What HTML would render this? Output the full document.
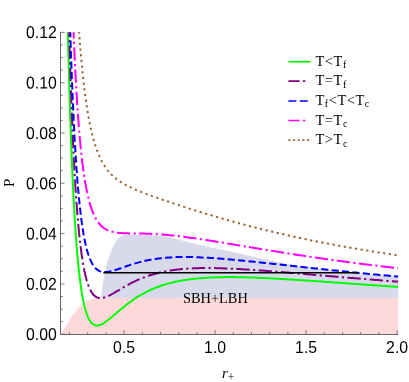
<!DOCTYPE html>
<html><head><meta charset="utf-8"><title>P-r+ diagram</title>
<style>html,body{margin:0;padding:0;background:#fff;}body{width:409px;height:382px;position:relative;overflow:hidden;}</style>
</head><body>
<svg width="409" height="382" viewBox="0 0 409 382" style="position:absolute;left:0;top:0">
<path d="M60.6,334.0 L61.1,333.2 L61.7,332.4 L62.2,331.5 L62.7,330.7 L63.3,329.9 L63.8,329.1 L64.3,328.3 L64.8,327.4 L65.4,326.6 L65.9,325.8 L66.4,325.0 L66.9,324.2 L67.5,323.3 L68.0,322.5 L68.5,321.7 L69.0,320.9 L69.6,320.1 L70.1,319.2 L70.6,318.4 L71.1,317.6 L71.6,316.7 L72.2,315.9 L72.7,315.1 L73.3,314.3 L73.9,313.5 L74.4,312.7 L75.0,312.0 L75.6,311.2 L76.2,310.4 L76.9,309.7 L77.5,308.9 L78.1,308.2 L78.8,307.5 L79.5,306.8 L80.2,306.1 L80.9,305.5 L81.7,304.8 L82.4,304.2 L83.2,303.6 L84.0,303.0 L84.8,302.5 L85.6,301.9 L86.4,301.4 L87.3,300.9 L88.1,300.5 L89.0,300.1 L90.0,299.8 L90.9,299.5 L91.8,299.3 L92.8,299.0 L93.7,298.8 L94.7,298.6 L95.7,298.5 L96.6,298.4 L97.6,298.3 L98.6,298.2 L99.5,298.2 L100.5,298.1 L101.5,298.1 L398.2,298.1 L398.2,334.5 L60.4,334.5 Z" fill="#ffd9d9"/>
<path d="M100.9,298.1 L101.1,296.4 L101.4,294.6 L101.6,292.9 L101.8,291.2 L102.1,289.4 L102.3,287.7 L102.6,286.0 L102.8,284.3 L103.1,282.5 L103.3,280.8 L103.6,279.1 L104.0,277.4 L104.4,275.7 L104.8,274.0 L105.2,272.3 L105.6,270.6 L105.9,268.8 L106.2,267.1 L106.5,265.4 L106.9,263.7 L107.4,262.0 L107.9,260.4 L108.5,258.7 L109.0,257.0 L109.6,255.4 L110.2,253.7 L110.7,252.1 L111.4,250.5 L112.0,248.8 L112.7,247.2 L113.5,245.7 L114.3,244.1 L115.1,242.6 L116.1,241.1 L117.2,239.7 L118.3,238.4 L119.6,237.3 L121.1,236.3 L122.7,235.6 L124.4,235.1 L126.1,234.8 L127.9,234.6 L129.6,234.5 L131.3,234.5 L133.1,234.5 L134.8,234.5 L136.6,234.5 L138.3,234.6 L140.1,234.6 L141.8,234.7 L143.6,234.7 L145.3,234.8 L147.1,234.9 L148.8,235.0 L150.5,235.1 L152.3,235.3 L154.0,235.4 L155.8,235.6 L157.5,235.7 L159.2,235.9 L161.0,236.1 L162.7,236.3 L164.4,236.6 L166.2,236.8 L167.9,237.1 L169.6,237.4 L171.3,237.8 L173.0,238.2 L174.7,238.6 L176.4,239.0 L178.1,239.4 L179.8,239.8 L181.5,240.3 L183.2,240.7 L184.9,241.1 L186.6,241.6 L188.3,242.0 L190.0,242.4 L191.7,242.9 L193.4,243.3 L195.1,243.7 L196.7,244.1 L198.4,244.6 L200.1,245.0 L201.8,245.4 L203.5,245.8 L205.2,246.2 L206.9,246.6 L208.6,247.0 L210.3,247.4 L212.0,247.8 L213.8,248.1 L215.5,248.4 L217.2,248.8 L218.9,249.1 L220.6,249.4 L222.3,249.7 L224.1,250.0 L225.8,250.4 L227.5,250.7 L229.2,251.0 L230.9,251.4 L232.6,251.8 L234.3,252.2 L236.0,252.6 L237.7,253.0 L239.4,253.4 L241.1,253.8 L242.8,254.2 L244.5,254.7 L246.2,255.1 L247.9,255.5 L249.6,255.8 L251.3,256.2 L253.0,256.6 L254.7,257.0 L256.4,257.4 L258.1,257.7 L259.8,258.1 L261.5,258.5 L263.2,258.9 L265.0,259.2 L266.7,259.6 L268.4,260.0 L270.1,260.4 L271.8,260.7 L273.5,261.1 L275.2,261.4 L276.9,261.8 L278.6,262.1 L280.3,262.5 L282.0,262.8 L283.8,263.1 L285.5,263.5 L287.2,263.8 L288.9,264.1 L290.6,264.4 L292.4,264.7 L294.1,265.0 L295.8,265.3 L297.5,265.6 L299.2,265.9 L301.0,266.2 L302.7,266.5 L304.4,266.7 L306.1,267.0 L307.9,267.3 L309.6,267.5 L311.3,267.8 L313.0,268.1 L314.8,268.3 L316.5,268.5 L318.2,268.8 L320.0,269.0 L321.7,269.3 L323.4,269.5 L325.2,269.7 L326.9,269.9 L328.6,270.1 L330.4,270.3 L332.1,270.5 L333.8,270.7 L335.6,270.9 L337.3,271.1 L339.1,271.2 L340.8,271.4 L342.5,271.6 L344.3,271.8 L346.0,271.9 L347.7,272.1 L349.5,272.3 L351.2,272.4 L353.0,272.6 L354.7,272.8 L356.4,272.9 L358.2,273.1 L359.9,273.3 L361.7,273.4 L363.4,273.6 L365.1,273.8 L366.9,273.9 L368.6,274.1 L370.4,274.3 L372.1,274.4 L373.8,274.6 L375.6,274.7 L377.3,274.9 L379.0,275.0 L380.8,275.2 L382.5,275.3 L384.3,275.5 L386.0,275.6 L387.8,275.8 L389.5,275.9 L391.2,276.1 L393.0,276.2 L394.7,276.3 L396.5,276.5 L398.2,276.6 L398.2,298.1 L100.9,298.1 Z" fill="#d9d9ec"/>
<path d="M67.9,32.2 L68.0,37.2 L68.2,46.4 L68.4,55.3 L68.7,63.9 L68.9,72.2 L69.1,80.3 L69.3,88.1 L69.6,95.7 L69.8,103.1 L70.0,110.2 L70.2,117.2 L70.5,123.9 L70.7,130.4 L70.9,136.7 L71.1,142.8 L71.4,148.7 L71.6,154.4 L71.8,160.0 L72.0,165.4 L72.3,170.6 L72.5,175.7 L72.7,180.6 L72.9,185.4 L73.2,190.1 L73.4,194.5 L73.6,198.9 L73.8,203.1 L74.1,207.2 L74.3,211.2 L74.5,215.1 L74.7,218.8 L75.0,222.4 L75.2,226.0 L75.4,229.4 L75.6,232.7 L75.9,235.9 L76.1,239.0 L76.3,242.0 L76.5,244.9 L76.8,247.8 L77.0,250.5 L77.2,253.2 L77.4,255.8 L77.7,258.3 L77.9,260.7 L78.1,263.1 L78.4,265.4 L78.6,267.6 L78.8,269.7 L79.0,271.8 L79.3,273.8 L79.5,275.8 L79.7,277.7 L79.9,279.5 L80.2,281.3 L80.4,283.0 L80.6,284.7 L80.8,286.3 L81.1,287.8 L81.3,289.4 L81.5,290.8 L81.7,292.2 L82.0,293.6 L82.2,294.9 L82.4,296.2 L82.6,297.5 L82.9,298.7 L83.1,299.8 L83.3,301.0 L83.5,302.0 L83.8,303.1 L84.0,304.1 L84.2,305.1 L84.4,306.0 L84.7,306.9 L84.9,307.8 L85.1,308.7 L85.3,309.5 L85.6,310.3 L86.0,311.8 L86.5,313.2 L86.9,314.5 L87.4,315.6 L87.8,316.7 L88.3,317.8 L88.7,318.7 L89.2,319.5 L89.6,320.3 L90.1,321.0 L90.8,322.0 L91.4,322.8 L92.1,323.5 L92.8,324.0 L93.5,324.5 L94.4,324.9 L95.3,325.2 L96.2,325.4 L97.1,325.4 L98.0,325.4 L98.9,325.2 L99.8,325.0 L100.7,324.6 L101.6,324.2 L102.5,323.8 L103.4,323.3 L104.3,322.7 L105.0,322.3 L105.6,321.8 L106.3,321.3 L107.0,320.8 L107.7,320.3 L108.3,319.8 L109.0,319.3 L109.7,318.7 L110.4,318.2 L111.1,317.6 L111.7,317.0 L112.4,316.5 L113.1,315.9 L113.8,315.3 L114.4,314.7 L115.1,314.1 L115.8,313.6 L116.5,313.0 L117.1,312.4 L117.8,311.8 L118.5,311.2 L119.2,310.7 L119.8,310.1 L120.5,309.5 L121.2,309.0 L121.9,308.4 L122.6,307.8 L123.2,307.3 L123.9,306.7 L124.6,306.2 L125.3,305.7 L125.9,305.1 L126.6,304.6 L127.3,304.1 L128.0,303.6 L128.6,303.1 L129.3,302.6 L130.0,302.1 L130.7,301.6 L131.4,301.1 L132.0,300.6 L132.7,300.1 L133.4,299.7 L134.1,299.2 L134.7,298.7 L135.4,298.3 L136.1,297.9 L136.8,297.4 L137.4,297.0 L138.3,296.4 L139.2,295.9 L140.1,295.4 L141.0,294.8 L141.9,294.3 L142.9,293.8 L143.8,293.3 L144.7,292.8 L145.6,292.4 L146.5,291.9 L147.4,291.4 L148.3,291.0 L149.2,290.6 L150.1,290.2 L151.0,289.7 L151.9,289.3 L152.8,289.0 L153.7,288.6 L154.6,288.2 L155.5,287.8 L156.4,287.5 L157.3,287.1 L158.2,286.8 L159.1,286.5 L160.0,286.1 L160.9,285.8 L161.8,285.5 L162.7,285.2 L163.6,284.9 L164.5,284.7 L165.4,284.4 L166.3,284.1 L167.2,283.9 L168.1,283.6 L169.0,283.4 L169.9,283.1 L170.8,282.9 L171.7,282.7 L172.6,282.4 L173.5,282.2 L174.4,282.0 L175.3,281.8 L176.2,281.6 L177.1,281.4 L178.0,281.2 L178.9,281.1 L179.8,280.9 L180.7,280.7 L181.6,280.6 L182.5,280.4 L183.4,280.3 L184.3,280.1 L185.3,280.0 L186.2,279.8 L187.1,279.7 L188.0,279.6 L188.9,279.4 L189.8,279.3 L190.7,279.2 L191.6,279.1 L192.5,279.0 L193.4,278.9 L194.3,278.8 L195.2,278.7 L196.1,278.6 L197.0,278.5 L197.9,278.4 L198.8,278.3 L199.7,278.2 L200.6,278.2 L201.5,278.1 L202.4,278.0 L203.3,278.0 L204.2,277.9 L205.1,277.8 L206.0,277.8 L206.9,277.7 L207.8,277.7 L208.7,277.6 L209.6,277.6 L210.5,277.5 L211.4,277.5 L212.3,277.4 L213.2,277.4 L214.1,277.4 L215.0,277.3 L215.9,277.3 L216.8,277.3 L217.7,277.3 L218.6,277.2 L219.5,277.2 L220.4,277.2 L221.3,277.2 L222.2,277.2 L223.1,277.2 L224.0,277.1 L224.9,277.1 L225.8,277.1 L226.7,277.1 L227.7,277.1 L228.6,277.1 L229.5,277.1 L230.4,277.1 L231.3,277.1 L232.2,277.1 L233.1,277.1 L234.0,277.1 L234.9,277.1 L235.8,277.2 L236.7,277.2 L237.6,277.2 L238.5,277.2 L239.4,277.2 L240.3,277.2 L241.2,277.2 L242.1,277.3 L243.0,277.3 L243.9,277.3 L244.8,277.3 L245.7,277.4 L246.6,277.4 L247.5,277.4 L248.4,277.4 L249.3,277.5 L250.2,277.5 L251.1,277.5 L252.0,277.5 L252.9,277.6 L253.8,277.6 L254.7,277.6 L255.6,277.7 L256.5,277.7 L257.4,277.7 L258.3,277.8 L259.2,277.8 L260.1,277.9 L261.0,277.9 L261.9,277.9 L262.8,278.0 L263.7,278.0 L264.6,278.1 L265.5,278.1 L266.4,278.2 L267.3,278.2 L268.2,278.2 L269.1,278.3 L270.0,278.3 L271.0,278.4 L271.9,278.4 L272.8,278.5 L273.7,278.5 L274.6,278.6 L275.5,278.6 L276.4,278.7 L277.3,278.7 L278.2,278.8 L279.1,278.8 L280.0,278.9 L280.9,278.9 L281.8,279.0 L282.7,279.0 L283.6,279.1 L284.5,279.1 L285.4,279.2 L286.3,279.2 L287.2,279.3 L288.1,279.4 L289.0,279.4 L289.9,279.5 L290.8,279.5 L291.7,279.6 L292.6,279.6 L293.5,279.7 L294.4,279.7 L295.3,279.8 L296.2,279.9 L297.1,279.9 L298.0,280.0 L298.9,280.0 L299.8,280.1 L300.7,280.2 L301.6,280.2 L302.5,280.3 L303.4,280.3 L304.3,280.4 L305.2,280.5 L306.1,280.5 L307.0,280.6 L307.9,280.6 L308.8,280.7 L309.7,280.8 L310.6,280.8 L311.5,280.9 L312.4,280.9 L313.4,281.0 L314.3,281.1 L315.2,281.1 L316.1,281.2 L317.0,281.2 L317.9,281.3 L318.8,281.4 L319.7,281.4 L320.6,281.5 L321.5,281.6 L322.4,281.6 L323.3,281.7 L324.2,281.7 L325.1,281.8 L326.0,281.9 L326.9,281.9 L327.8,282.0 L328.7,282.1 L329.6,282.1 L330.5,282.2 L331.4,282.3 L332.3,282.3 L333.2,282.4 L334.1,282.4 L335.0,282.5 L335.9,282.6 L336.8,282.6 L337.7,282.7 L338.6,282.8 L339.5,282.8 L340.4,282.9 L341.3,283.0 L342.2,283.0 L343.1,283.1 L344.0,283.1 L344.9,283.2 L345.8,283.3 L346.7,283.3 L347.6,283.4 L348.5,283.5 L349.4,283.5 L350.3,283.6 L351.2,283.7 L352.1,283.7 L353.0,283.8 L353.9,283.9 L354.8,283.9 L355.7,284.0 L356.7,284.0 L357.6,284.1 L358.5,284.2 L359.4,284.2 L360.3,284.3 L361.2,284.4 L362.1,284.4 L363.0,284.5 L363.9,284.6 L364.8,284.6 L365.7,284.7 L366.6,284.7 L367.5,284.8 L368.4,284.9 L369.3,284.9 L370.2,285.0 L371.1,285.1 L372.0,285.1 L372.9,285.2 L373.8,285.3 L374.7,285.3 L375.6,285.4 L376.5,285.4 L377.4,285.5 L378.3,285.6 L379.2,285.6 L380.1,285.7 L381.0,285.8 L381.9,285.8 L382.8,285.9 L383.7,285.9 L384.6,286.0 L385.5,286.1 L386.4,286.1 L387.3,286.2 L388.2,286.3 L389.1,286.3 L390.0,286.4 L390.9,286.4 L391.8,286.5 L392.7,286.6 L393.6,286.6 L394.5,286.7 L395.4,286.7 L396.3,286.8 L397.2,286.9 L398.1,286.9" fill="none" stroke="#00ff00" stroke-width="2"/>
<path d="M69.2,32.2 L69.3,38.3 L69.6,46.2 L69.8,53.8 L70.0,61.1 L70.2,68.3 L70.5,75.3 L70.7,82.0 L70.9,88.6 L71.1,94.9 L71.4,101.1 L71.6,107.1 L71.8,113.0 L72.0,118.6 L72.3,124.1 L72.5,129.5 L72.7,134.6 L72.9,139.7 L73.2,144.6 L73.4,149.3 L73.6,153.9 L73.8,158.4 L74.1,162.8 L74.3,167.0 L74.5,171.1 L74.7,175.1 L75.0,179.0 L75.2,182.7 L75.4,186.4 L75.6,189.9 L75.9,193.4 L76.1,196.7 L76.3,200.0 L76.5,203.1 L76.8,206.2 L77.0,209.2 L77.2,212.1 L77.4,214.9 L77.7,217.6 L77.9,220.3 L78.1,222.8 L78.4,225.3 L78.6,227.8 L78.8,230.1 L79.0,232.4 L79.3,234.6 L79.5,236.8 L79.7,238.9 L79.9,240.9 L80.2,242.9 L80.4,244.8 L80.6,246.7 L80.8,248.5 L81.1,250.2 L81.3,251.9 L81.5,253.6 L81.7,255.2 L82.0,256.7 L82.2,258.2 L82.4,259.7 L82.6,261.1 L82.9,262.5 L83.1,263.8 L83.3,265.1 L83.5,266.4 L83.8,267.6 L84.0,268.7 L84.2,269.9 L84.4,271.0 L84.7,272.1 L84.9,273.1 L85.1,274.1 L85.3,275.1 L85.6,276.0 L85.8,276.9 L86.0,277.8 L86.2,278.7 L86.5,279.5 L86.7,280.3 L86.9,281.1 L87.4,282.6 L87.8,283.9 L88.3,285.2 L88.7,286.4 L89.2,287.5 L89.6,288.6 L90.1,289.5 L90.5,290.4 L91.0,291.2 L91.4,292.0 L91.9,292.7 L92.6,293.7 L93.2,294.5 L93.9,295.2 L94.6,295.8 L95.3,296.4 L95.9,296.8 L96.8,297.3 L97.7,297.6 L98.6,297.9 L99.6,298.0 L100.5,298.1 L101.4,298.0 L102.3,297.9 L103.2,297.8 L104.1,297.6 L105.0,297.3 L105.9,297.0 L106.8,296.6 L107.7,296.3 L108.6,295.8 L109.5,295.4 L110.4,295.0 L111.3,294.5 L112.2,294.0 L113.1,293.5 L114.0,293.0 L114.9,292.4 L115.8,291.9 L116.7,291.4 L117.6,290.8 L118.5,290.3 L119.4,289.8 L120.3,289.2 L121.2,288.7 L122.1,288.2 L123.0,287.6 L123.9,287.1 L124.8,286.6 L125.7,286.1 L126.6,285.6 L127.5,285.1 L128.4,284.6 L129.3,284.1 L130.2,283.6 L131.1,283.2 L132.0,282.7 L132.9,282.2 L133.8,281.8 L134.7,281.4 L135.6,280.9 L136.5,280.5 L137.4,280.1 L138.3,279.7 L139.2,279.3 L140.1,278.9 L141.0,278.5 L141.9,278.2 L142.9,277.8 L143.8,277.5 L144.7,277.1 L145.6,276.8 L146.5,276.5 L147.4,276.2 L148.3,275.8 L149.2,275.5 L150.1,275.3 L151.0,275.0 L151.9,274.7 L152.8,274.4 L153.7,274.2 L154.6,273.9 L155.5,273.7 L156.4,273.4 L157.3,273.2 L158.2,273.0 L159.1,272.7 L160.0,272.5 L160.9,272.3 L161.8,272.1 L162.7,271.9 L163.6,271.7 L164.5,271.6 L165.4,271.4 L166.3,271.2 L167.2,271.1 L168.1,270.9 L169.0,270.7 L169.9,270.6 L170.8,270.5 L171.7,270.3 L172.6,270.2 L173.5,270.1 L174.4,269.9 L175.3,269.8 L176.2,269.7 L177.1,269.6 L178.0,269.5 L178.9,269.4 L179.8,269.3 L180.7,269.2 L181.6,269.1 L182.5,269.0 L183.4,269.0 L184.3,268.9 L185.3,268.8 L186.2,268.8 L187.1,268.7 L188.0,268.6 L188.9,268.6 L189.8,268.5 L190.7,268.5 L191.6,268.4 L192.5,268.4 L193.4,268.3 L194.3,268.3 L195.2,268.3 L196.1,268.2 L197.0,268.2 L197.9,268.2 L198.8,268.2 L199.7,268.1 L200.6,268.1 L201.5,268.1 L202.4,268.1 L203.3,268.1 L204.2,268.1 L205.1,268.1 L206.0,268.1 L206.9,268.1 L207.8,268.1 L208.7,268.1 L209.6,268.1 L210.5,268.1 L211.4,268.1 L212.3,268.1 L213.2,268.1 L214.1,268.1 L215.0,268.1 L215.9,268.2 L216.8,268.2 L217.7,268.2 L218.6,268.2 L219.5,268.2 L220.4,268.3 L221.3,268.3 L222.2,268.3 L223.1,268.4 L224.0,268.4 L224.9,268.4 L225.8,268.4 L226.7,268.5 L227.7,268.5 L228.6,268.6 L229.5,268.6 L230.4,268.6 L231.3,268.7 L232.2,268.7 L233.1,268.8 L234.0,268.8 L234.9,268.9 L235.8,268.9 L236.7,268.9 L237.6,269.0 L238.5,269.0 L239.4,269.1 L240.3,269.1 L241.2,269.2 L242.1,269.2 L243.0,269.3 L243.9,269.4 L244.8,269.4 L245.7,269.5 L246.6,269.5 L247.5,269.6 L248.4,269.6 L249.3,269.7 L250.2,269.8 L251.1,269.8 L252.0,269.9 L252.9,269.9 L253.8,270.0 L254.7,270.1 L255.6,270.1 L256.5,270.2 L257.4,270.3 L258.3,270.3 L259.2,270.4 L260.1,270.4 L261.0,270.5 L261.9,270.6 L262.8,270.6 L263.7,270.7 L264.6,270.8 L265.5,270.8 L266.4,270.9 L267.3,271.0 L268.2,271.1 L269.1,271.1 L270.0,271.2 L271.0,271.3 L271.9,271.3 L272.8,271.4 L273.7,271.5 L274.6,271.5 L275.5,271.6 L276.4,271.7 L277.3,271.8 L278.2,271.8 L279.1,271.9 L280.0,272.0 L280.9,272.1 L281.8,272.1 L282.7,272.2 L283.6,272.3 L284.5,272.3 L285.4,272.4 L286.3,272.5 L287.2,272.6 L288.1,272.6 L289.0,272.7 L289.9,272.8 L290.8,272.9 L291.7,272.9 L292.6,273.0 L293.5,273.1 L294.4,273.2 L295.3,273.2 L296.2,273.3 L297.1,273.4 L298.0,273.5 L298.9,273.6 L299.8,273.6 L300.7,273.7 L301.6,273.8 L302.5,273.9 L303.4,273.9 L304.3,274.0 L305.2,274.1 L306.1,274.2 L307.0,274.2 L307.9,274.3 L308.8,274.4 L309.7,274.5 L310.6,274.5 L311.5,274.6 L312.4,274.7 L313.4,274.8 L314.3,274.9 L315.2,274.9 L316.1,275.0 L317.0,275.1 L317.9,275.2 L318.8,275.2 L319.7,275.3 L320.6,275.4 L321.5,275.5 L322.4,275.5 L323.3,275.6 L324.2,275.7 L325.1,275.8 L326.0,275.8 L326.9,275.9 L327.8,276.0 L328.7,276.1 L329.6,276.2 L330.5,276.2 L331.4,276.3 L332.3,276.4 L333.2,276.5 L334.1,276.5 L335.0,276.6 L335.9,276.7 L336.8,276.8 L337.7,276.8 L338.6,276.9 L339.5,277.0 L340.4,277.1 L341.3,277.1 L342.2,277.2 L343.1,277.3 L344.0,277.4 L344.9,277.4 L345.8,277.5 L346.7,277.6 L347.6,277.7 L348.5,277.7 L349.4,277.8 L350.3,277.9 L351.2,278.0 L352.1,278.0 L353.0,278.1 L353.9,278.2 L354.8,278.3 L355.7,278.3 L356.7,278.4 L357.6,278.5 L358.5,278.6 L359.4,278.6 L360.3,278.7 L361.2,278.8 L362.1,278.9 L363.0,278.9 L363.9,279.0 L364.8,279.1 L365.7,279.1 L366.6,279.2 L367.5,279.3 L368.4,279.4 L369.3,279.4 L370.2,279.5 L371.1,279.6 L372.0,279.6 L372.9,279.7 L373.8,279.8 L374.7,279.9 L375.6,279.9 L376.5,280.0 L377.4,280.1 L378.3,280.1 L379.2,280.2 L380.1,280.3 L381.0,280.4 L381.9,280.4 L382.8,280.5 L383.7,280.6 L384.6,280.6 L385.5,280.7 L386.4,280.8 L387.3,280.9 L388.2,280.9 L389.1,281.0 L390.0,281.1 L390.9,281.1 L391.8,281.2 L392.7,281.3 L393.6,281.3 L394.5,281.4 L395.4,281.5 L396.3,281.5 L397.2,281.6 L398.1,281.7" fill="none" stroke="#800080" stroke-width="2" stroke-dasharray="13.331 3.407 2.172 3.407" stroke-dashoffset="8.81"/>
<path d="M70.3,32.2 L70.5,38.5 L70.7,45.4 L70.9,52.1 L71.1,58.6 L71.4,64.9 L71.6,71.1 L71.8,77.0 L72.0,82.8 L72.3,88.4 L72.5,93.8 L72.7,99.1 L72.9,104.3 L73.2,109.2 L73.4,114.1 L73.6,118.8 L73.8,123.3 L74.1,127.7 L74.3,132.0 L74.5,136.2 L74.7,140.3 L75.0,144.2 L75.2,148.0 L75.4,151.8 L75.6,155.4 L75.9,158.9 L76.1,162.3 L76.3,165.6 L76.5,168.8 L76.8,171.9 L77.0,175.0 L77.2,177.9 L77.4,180.8 L77.7,183.6 L77.9,186.3 L78.1,188.9 L78.4,191.5 L78.6,194.0 L78.8,196.4 L79.0,198.7 L79.3,201.0 L79.5,203.2 L79.7,205.4 L79.9,207.5 L80.2,209.5 L80.4,211.5 L80.6,213.4 L80.8,215.3 L81.1,217.1 L81.3,218.8 L81.5,220.5 L81.7,222.2 L82.0,223.8 L82.2,225.4 L82.4,226.9 L82.6,228.4 L82.9,229.8 L83.1,231.2 L83.3,232.6 L83.5,233.9 L83.8,235.2 L84.0,236.5 L84.2,237.7 L84.4,238.8 L84.7,240.0 L84.9,241.1 L85.1,242.2 L85.3,243.2 L85.6,244.2 L85.8,245.2 L86.0,246.2 L86.2,247.1 L86.5,248.0 L86.7,248.9 L86.9,249.7 L87.1,250.6 L87.4,251.4 L87.6,252.1 L88.0,253.6 L88.5,255.0 L89.0,256.3 L89.4,257.6 L89.9,258.7 L90.3,259.8 L90.8,260.8 L91.2,261.8 L91.7,262.7 L92.1,263.5 L92.6,264.3 L93.0,265.0 L93.5,265.7 L94.1,266.6 L94.8,267.4 L95.5,268.2 L96.2,268.8 L96.8,269.4 L97.5,269.9 L98.2,270.4 L99.1,270.9 L100.0,271.3 L100.9,271.6 L101.8,271.8 L102.7,272.0 L103.6,272.1 L104.5,272.1 L105.4,272.1 L106.3,272.1 L107.2,272.0 L108.1,271.9 L109.0,271.7 L109.9,271.5 L110.8,271.3 L111.7,271.1 L112.6,270.9 L113.5,270.6 L114.4,270.3 L115.3,270.1 L116.2,269.8 L117.1,269.5 L118.0,269.1 L118.9,268.8 L119.8,268.5 L120.8,268.2 L121.7,267.9 L122.6,267.6 L123.5,267.2 L124.4,266.9 L125.3,266.6 L126.2,266.3 L127.1,266.0 L128.0,265.7 L128.9,265.4 L129.8,265.1 L130.7,264.8 L131.6,264.5 L132.5,264.2 L133.4,263.9 L134.3,263.6 L135.2,263.4 L136.1,263.1 L137.0,262.9 L137.9,262.6 L138.8,262.4 L139.7,262.1 L140.6,261.9 L141.5,261.7 L142.4,261.4 L143.3,261.2 L144.2,261.0 L145.1,260.8 L146.0,260.6 L146.9,260.4 L147.8,260.2 L148.7,260.1 L149.6,259.9 L150.5,259.7 L151.4,259.6 L152.3,259.4 L153.2,259.3 L154.1,259.1 L155.0,259.0 L155.9,258.9 L156.8,258.7 L157.7,258.6 L158.6,258.5 L159.5,258.4 L160.4,258.3 L161.3,258.2 L162.2,258.1 L163.1,258.0 L164.1,257.9 L165.0,257.8 L165.9,257.7 L166.8,257.7 L167.7,257.6 L168.6,257.5 L169.5,257.5 L170.4,257.4 L171.3,257.4 L172.2,257.3 L173.1,257.3 L174.0,257.2 L174.9,257.2 L175.8,257.2 L176.7,257.1 L177.6,257.1 L178.5,257.1 L179.4,257.1 L180.3,257.0 L181.2,257.0 L182.1,257.0 L183.0,257.0 L183.9,257.0 L184.8,257.0 L185.7,257.0 L186.6,257.0 L187.5,257.0 L188.4,257.0 L189.3,257.0 L190.2,257.1 L191.1,257.1 L192.0,257.1 L192.9,257.1 L193.8,257.1 L194.7,257.2 L195.6,257.2 L196.5,257.2 L197.4,257.2 L198.3,257.3 L199.2,257.3 L200.1,257.4 L201.0,257.4 L201.9,257.4 L202.8,257.5 L203.7,257.5 L204.6,257.6 L205.5,257.6 L206.5,257.7 L207.4,257.7 L208.3,257.8 L209.2,257.8 L210.1,257.9 L211.0,258.0 L211.9,258.0 L212.8,258.1 L213.7,258.1 L214.6,258.2 L215.5,258.3 L216.4,258.3 L217.3,258.4 L218.2,258.5 L219.1,258.5 L220.0,258.6 L220.9,258.7 L221.8,258.7 L222.7,258.8 L223.6,258.9 L224.5,259.0 L225.4,259.0 L226.3,259.1 L227.2,259.2 L228.1,259.3 L229.0,259.4 L229.9,259.4 L230.8,259.5 L231.7,259.6 L232.6,259.7 L233.5,259.8 L234.4,259.8 L235.3,259.9 L236.2,260.0 L237.1,260.1 L238.0,260.2 L238.9,260.3 L239.8,260.4 L240.7,260.5 L241.6,260.5 L242.5,260.6 L243.4,260.7 L244.3,260.8 L245.2,260.9 L246.1,261.0 L247.0,261.1 L247.9,261.2 L248.8,261.3 L249.8,261.4 L250.7,261.5 L251.6,261.5 L252.5,261.6 L253.4,261.7 L254.3,261.8 L255.2,261.9 L256.1,262.0 L257.0,262.1 L257.9,262.2 L258.8,262.3 L259.7,262.4 L260.6,262.5 L261.5,262.6 L262.4,262.7 L263.3,262.8 L264.2,262.9 L265.1,263.0 L266.0,263.1 L266.9,263.2 L267.8,263.3 L268.7,263.4 L269.6,263.5 L270.5,263.6 L271.4,263.7 L272.3,263.8 L273.2,263.9 L274.1,263.9 L275.0,264.0 L275.9,264.1 L276.8,264.2 L277.7,264.3 L278.6,264.4 L279.5,264.5 L280.4,264.6 L281.3,264.7 L282.2,264.8 L283.1,264.9 L284.0,265.0 L284.9,265.1 L285.8,265.2 L286.7,265.3 L287.6,265.4 L288.5,265.5 L289.4,265.6 L290.3,265.7 L291.2,265.8 L292.2,265.9 L293.1,266.0 L294.0,266.1 L294.9,266.2 L295.8,266.3 L296.7,266.4 L297.6,266.5 L298.5,266.6 L299.4,266.7 L300.3,266.8 L301.2,266.9 L302.1,267.0 L303.0,267.1 L303.9,267.2 L304.8,267.3 L305.7,267.4 L306.6,267.5 L307.5,267.6 L308.4,267.7 L309.3,267.8 L310.2,267.9 L311.1,268.0 L312.0,268.1 L312.9,268.2 L313.8,268.3 L314.7,268.4 L315.6,268.5 L316.5,268.6 L317.4,268.6 L318.3,268.7 L319.2,268.8 L320.1,268.9 L321.0,269.0 L321.9,269.1 L322.8,269.2 L323.7,269.3 L324.6,269.4 L325.5,269.5 L326.4,269.6 L327.3,269.7 L328.2,269.8 L329.1,269.9 L330.0,270.0 L330.9,270.1 L331.8,270.2 L332.7,270.3 L333.6,270.4 L334.5,270.4 L335.5,270.5 L336.4,270.6 L337.3,270.7 L338.2,270.8 L339.1,270.9 L340.0,271.0 L340.9,271.1 L341.8,271.2 L342.7,271.3 L343.6,271.4 L344.5,271.5 L345.4,271.6 L346.3,271.6 L347.2,271.7 L348.1,271.8 L349.0,271.9 L349.9,272.0 L350.8,272.1 L351.7,272.2 L352.6,272.3 L353.5,272.4 L354.4,272.5 L355.3,272.5 L356.2,272.6 L357.1,272.7 L358.0,272.8 L358.9,272.9 L359.8,273.0 L360.7,273.1 L361.6,273.2 L362.5,273.2 L363.4,273.3 L364.3,273.4 L365.2,273.5 L366.1,273.6 L367.0,273.7 L367.9,273.8 L368.8,273.9 L369.7,273.9 L370.6,274.0 L371.5,274.1 L372.4,274.2 L373.3,274.3 L374.2,274.4 L375.1,274.5 L376.0,274.5 L376.9,274.6 L377.9,274.7 L378.8,274.8 L379.7,274.9 L380.6,275.0 L381.5,275.0 L382.4,275.1 L383.3,275.2 L384.2,275.3 L385.1,275.4 L386.0,275.5 L386.9,275.5 L387.8,275.6 L388.7,275.7 L389.6,275.8 L390.5,275.9 L391.4,276.0 L392.3,276.0 L393.2,276.1 L394.1,276.2 L395.0,276.3 L395.9,276.4 L396.8,276.4 L397.7,276.5 L398.1,276.6" fill="none" stroke="#0000ff" stroke-width="2" stroke-dasharray="7.174 3.284" stroke-dashoffset="2.06"/>
<path d="M73.6,32.2 L73.6,33.0 L73.8,38.5 L74.1,43.9 L74.3,49.1 L74.5,54.1 L74.7,59.0 L75.0,63.7 L75.2,68.3 L75.4,72.7 L75.6,77.1 L75.9,81.3 L76.1,85.3 L76.3,89.3 L76.5,93.1 L76.8,96.9 L77.0,100.5 L77.2,104.0 L77.4,107.4 L77.7,110.7 L77.9,114.0 L78.1,117.1 L78.4,120.2 L78.6,123.1 L78.8,126.0 L79.0,128.8 L79.3,131.5 L79.5,134.2 L79.7,136.8 L79.9,139.3 L80.2,141.7 L80.4,144.1 L80.6,146.4 L80.8,148.7 L81.1,150.8 L81.3,153.0 L81.5,155.0 L81.7,157.1 L82.0,159.0 L82.2,160.9 L82.4,162.8 L82.6,164.6 L82.9,166.4 L83.1,168.1 L83.3,169.8 L83.5,171.4 L83.8,173.0 L84.0,174.5 L84.2,176.0 L84.4,177.5 L84.7,178.9 L84.9,180.3 L85.1,181.7 L85.3,183.0 L85.6,184.3 L85.8,185.5 L86.0,186.8 L86.2,187.9 L86.5,189.1 L86.7,190.2 L86.9,191.3 L87.1,192.4 L87.4,193.5 L87.6,194.5 L87.8,195.5 L88.0,196.5 L88.3,197.4 L88.5,198.3 L88.7,199.2 L89.0,200.1 L89.2,201.0 L89.4,201.8 L89.6,202.6 L89.9,203.4 L90.1,204.2 L90.5,205.7 L91.0,207.1 L91.4,208.4 L91.9,209.7 L92.3,210.9 L92.8,212.1 L93.2,213.2 L93.7,214.2 L94.1,215.2 L94.6,216.2 L95.0,217.1 L95.5,217.9 L95.9,218.8 L96.4,219.5 L96.8,220.3 L97.3,221.0 L97.7,221.6 L98.4,222.6 L99.1,223.4 L99.8,224.3 L100.5,225.0 L101.1,225.7 L101.8,226.3 L102.5,226.9 L103.2,227.5 L103.8,228.0 L104.5,228.5 L105.2,228.9 L106.1,229.4 L107.0,229.9 L107.9,230.3 L108.8,230.7 L109.7,231.0 L110.6,231.3 L111.5,231.6 L112.4,231.8 L113.3,232.0 L114.2,232.2 L115.1,232.4 L116.0,232.5 L116.9,232.7 L117.8,232.8 L118.7,232.9 L119.6,233.0 L120.5,233.0 L121.4,233.1 L122.3,233.2 L123.2,233.2 L124.1,233.2 L125.0,233.3 L125.9,233.3 L126.8,233.3 L127.7,233.3 L128.6,233.4 L129.5,233.4 L130.4,233.4 L131.4,233.4 L132.3,233.4 L133.2,233.4 L134.1,233.4 L135.0,233.5 L135.9,233.5 L136.8,233.5 L137.7,233.5 L138.6,233.5 L139.5,233.5 L140.4,233.5 L141.3,233.5 L142.2,233.6 L143.1,233.6 L144.0,233.6 L144.9,233.6 L145.8,233.7 L146.7,233.7 L147.6,233.7 L148.5,233.8 L149.4,233.8 L150.3,233.8 L151.2,233.9 L152.1,233.9 L153.0,234.0 L153.9,234.0 L154.8,234.1 L155.7,234.1 L156.6,234.2 L157.5,234.2 L158.4,234.3 L159.3,234.3 L160.2,234.4 L161.1,234.5 L162.0,234.5 L162.9,234.6 L163.8,234.7 L164.7,234.8 L165.6,234.8 L166.5,234.9 L167.4,235.0 L168.3,235.1 L169.2,235.2 L170.1,235.3 L171.0,235.4 L171.9,235.4 L172.8,235.5 L173.7,235.6 L174.7,235.7 L175.6,235.8 L176.5,235.9 L177.4,236.0 L178.3,236.1 L179.2,236.2 L180.1,236.4 L181.0,236.5 L181.9,236.6 L182.8,236.7 L183.7,236.8 L184.6,236.9 L185.5,237.0 L186.4,237.2 L187.3,237.3 L188.2,237.4 L189.1,237.5 L190.0,237.6 L190.9,237.8 L191.8,237.9 L192.7,238.0 L193.6,238.1 L194.5,238.3 L195.4,238.4 L196.3,238.5 L197.2,238.7 L198.1,238.8 L199.0,238.9 L199.9,239.1 L200.8,239.2 L201.7,239.3 L202.6,239.5 L203.5,239.6 L204.4,239.7 L205.3,239.9 L206.2,240.0 L207.1,240.2 L208.0,240.3 L208.9,240.4 L209.8,240.6 L210.7,240.7 L211.6,240.9 L212.5,241.0 L213.4,241.2 L214.3,241.3 L215.2,241.4 L216.1,241.6 L217.1,241.7 L218.0,241.9 L218.9,242.0 L219.8,242.2 L220.7,242.3 L221.6,242.5 L222.5,242.6 L223.4,242.8 L224.3,242.9 L225.2,243.1 L226.1,243.2 L227.0,243.4 L227.9,243.5 L228.8,243.7 L229.7,243.8 L230.6,244.0 L231.5,244.1 L232.4,244.3 L233.3,244.4 L234.2,244.6 L235.1,244.7 L236.0,244.9 L236.9,245.0 L237.8,245.2 L238.7,245.3 L239.6,245.5 L240.5,245.6 L241.4,245.8 L242.3,245.9 L243.2,246.1 L244.1,246.2 L245.0,246.4 L245.9,246.5 L246.8,246.7 L247.7,246.8 L248.6,247.0 L249.5,247.1 L250.4,247.3 L251.3,247.4 L252.2,247.6 L253.1,247.7 L254.0,247.9 L254.9,248.0 L255.8,248.2 L256.7,248.3 L257.6,248.5 L258.5,248.6 L259.4,248.8 L260.4,248.9 L261.3,249.1 L262.2,249.2 L263.1,249.4 L264.0,249.5 L264.9,249.6 L265.8,249.8 L266.7,249.9 L267.6,250.1 L268.5,250.2 L269.4,250.4 L270.3,250.5 L271.2,250.7 L272.1,250.8 L273.0,251.0 L273.9,251.1 L274.8,251.3 L275.7,251.4 L276.6,251.6 L277.5,251.7 L278.4,251.8 L279.3,252.0 L280.2,252.1 L281.1,252.3 L282.0,252.4 L282.9,252.6 L283.8,252.7 L284.7,252.8 L285.6,253.0 L286.5,253.1 L287.4,253.3 L288.3,253.4 L289.2,253.6 L290.1,253.7 L291.0,253.8 L291.9,254.0 L292.8,254.1 L293.7,254.3 L294.6,254.4 L295.5,254.5 L296.4,254.7 L297.3,254.8 L298.2,255.0 L299.1,255.1 L300.0,255.2 L300.9,255.4 L301.8,255.5 L302.8,255.6 L303.7,255.8 L304.6,255.9 L305.5,256.0 L306.4,256.2 L307.3,256.3 L308.2,256.5 L309.1,256.6 L310.0,256.7 L310.9,256.9 L311.8,257.0 L312.7,257.1 L313.6,257.3 L314.5,257.4 L315.4,257.5 L316.3,257.7 L317.2,257.8 L318.1,257.9 L319.0,258.0 L319.9,258.2 L320.8,258.3 L321.7,258.4 L322.6,258.6 L323.5,258.7 L324.4,258.8 L325.3,259.0 L326.2,259.1 L327.1,259.2 L328.0,259.3 L328.9,259.5 L329.8,259.6 L330.7,259.7 L331.6,259.8 L332.5,260.0 L333.4,260.1 L334.3,260.2 L335.2,260.3 L336.1,260.5 L337.0,260.6 L337.9,260.7 L338.8,260.8 L339.7,261.0 L340.6,261.1 L341.5,261.2 L342.4,261.3 L343.3,261.5 L344.2,261.6 L345.1,261.7 L346.1,261.8 L347.0,261.9 L347.9,262.1 L348.8,262.2 L349.7,262.3 L350.6,262.4 L351.5,262.5 L352.4,262.7 L353.3,262.8 L354.2,262.9 L355.1,263.0 L356.0,263.1 L356.9,263.2 L357.8,263.4 L358.7,263.5 L359.6,263.6 L360.5,263.7 L361.4,263.8 L362.3,263.9 L363.2,264.1 L364.1,264.2 L365.0,264.3 L365.9,264.4 L366.8,264.5 L367.7,264.6 L368.6,264.7 L369.5,264.9 L370.4,265.0 L371.3,265.1 L372.2,265.2 L373.1,265.3 L374.0,265.4 L374.9,265.5 L375.8,265.6 L376.7,265.7 L377.6,265.8 L378.5,266.0 L379.4,266.1 L380.3,266.2 L381.2,266.3 L382.1,266.4 L383.0,266.5 L383.9,266.6 L384.8,266.7 L385.7,266.8 L386.6,266.9 L387.5,267.0 L388.5,267.1 L389.4,267.2 L390.3,267.4 L391.2,267.5 L392.1,267.6 L393.0,267.7 L393.9,267.8 L394.8,267.9 L395.7,268.0 L396.6,268.1 L397.5,268.2 L398.1,268.3" fill="none" stroke="#ff00ff" stroke-width="2" stroke-dasharray="13.273 3.392 2.163 3.392" stroke-dashoffset="7.04"/>
<path d="M79.1,32.2 L79.3,34.5 L79.5,37.5 L79.7,40.4 L79.9,43.3 L80.2,46.1 L80.4,48.9 L80.6,51.6 L80.8,54.2 L81.1,56.8 L81.3,59.3 L81.5,61.7 L81.7,64.2 L82.0,66.5 L82.2,68.8 L82.4,71.1 L82.6,73.3 L82.9,75.4 L83.1,77.5 L83.3,79.6 L83.5,81.6 L83.8,83.6 L84.0,85.5 L84.2,87.4 L84.4,89.3 L84.7,91.1 L84.9,92.8 L85.1,94.6 L85.3,96.3 L85.6,97.9 L85.8,99.6 L86.0,101.2 L86.2,102.7 L86.5,104.3 L86.7,105.8 L86.9,107.2 L87.1,108.7 L87.4,110.1 L87.6,111.5 L87.8,112.8 L88.0,114.1 L88.3,115.4 L88.5,116.7 L88.7,118.0 L89.0,119.2 L89.2,120.4 L89.4,121.6 L89.6,122.7 L89.9,123.8 L90.1,124.9 L90.3,126.0 L90.5,127.1 L90.8,128.1 L91.0,129.2 L91.2,130.2 L91.4,131.1 L91.7,132.1 L91.9,133.0 L92.1,134.0 L92.3,134.9 L92.6,135.8 L92.8,136.6 L93.0,137.5 L93.2,138.3 L93.5,139.2 L93.7,140.0 L93.9,140.8 L94.1,141.6 L94.6,143.1 L95.0,144.5 L95.5,146.0 L95.9,147.3 L96.4,148.6 L96.8,149.9 L97.3,151.1 L97.7,152.3 L98.2,153.4 L98.6,154.5 L99.1,155.6 L99.6,156.6 L100.0,157.6 L100.5,158.5 L100.9,159.5 L101.4,160.4 L101.8,161.2 L102.3,162.1 L102.7,162.9 L103.2,163.7 L103.6,164.4 L104.1,165.2 L104.5,165.9 L105.0,166.6 L105.4,167.2 L106.1,168.2 L106.8,169.1 L107.4,170.0 L108.1,170.9 L108.8,171.7 L109.5,172.5 L110.2,173.2 L110.8,173.9 L111.5,174.6 L112.2,175.3 L112.9,175.9 L113.5,176.6 L114.2,177.2 L114.9,177.7 L115.6,178.3 L116.2,178.8 L116.9,179.4 L117.6,179.9 L118.3,180.4 L118.9,180.8 L119.6,181.3 L120.3,181.7 L121.0,182.2 L121.9,182.7 L122.8,183.3 L123.7,183.8 L124.6,184.3 L125.5,184.8 L126.4,185.3 L127.3,185.8 L128.2,186.2 L129.1,186.7 L130.0,187.1 L130.9,187.5 L131.8,188.0 L132.7,188.4 L133.6,188.8 L134.5,189.2 L135.4,189.6 L136.3,190.0 L137.2,190.3 L138.1,190.7 L139.0,191.1 L139.9,191.4 L140.8,191.8 L141.7,192.1 L142.6,192.5 L143.5,192.8 L144.4,193.2 L145.3,193.5 L146.2,193.9 L147.1,194.2 L148.0,194.5 L148.9,194.9 L149.8,195.2 L150.7,195.5 L151.6,195.9 L152.5,196.2 L153.5,196.5 L154.4,196.8 L155.3,197.1 L156.2,197.5 L157.1,197.8 L158.0,198.1 L158.9,198.4 L159.8,198.7 L160.7,199.0 L161.6,199.3 L162.5,199.7 L163.4,200.0 L164.3,200.3 L165.2,200.6 L166.1,200.9 L167.0,201.2 L167.9,201.5 L168.8,201.8 L169.7,202.1 L170.6,202.4 L171.5,202.7 L172.4,203.0 L173.3,203.3 L174.2,203.6 L175.1,203.9 L176.0,204.2 L176.9,204.5 L177.8,204.8 L178.7,205.1 L179.6,205.4 L180.5,205.7 L181.4,206.0 L182.3,206.3 L183.2,206.6 L184.1,206.9 L185.0,207.1 L185.9,207.4 L186.8,207.7 L187.7,208.0 L188.6,208.3 L189.5,208.6 L190.4,208.9 L191.3,209.2 L192.2,209.5 L193.1,209.7 L194.0,210.0 L194.9,210.3 L195.9,210.6 L196.8,210.9 L197.7,211.2 L198.6,211.4 L199.5,211.7 L200.4,212.0 L201.3,212.3 L202.2,212.6 L203.1,212.8 L204.0,213.1 L204.9,213.4 L205.8,213.7 L206.7,213.9 L207.6,214.2 L208.5,214.5 L209.4,214.8 L210.3,215.0 L211.2,215.3 L212.1,215.6 L213.0,215.8 L213.9,216.1 L214.8,216.4 L215.7,216.6 L216.6,216.9 L217.5,217.2 L218.4,217.4 L219.3,217.7 L220.2,218.0 L221.1,218.2 L222.0,218.5 L222.9,218.7 L223.8,219.0 L224.7,219.3 L225.6,219.5 L226.5,219.8 L227.4,220.0 L228.3,220.3 L229.2,220.5 L230.1,220.8 L231.0,221.1 L231.9,221.3 L232.8,221.6 L233.7,221.8 L234.6,222.1 L235.5,222.3 L236.4,222.6 L237.3,222.8 L238.2,223.0 L239.2,223.3 L240.1,223.5 L241.0,223.8 L241.9,224.0 L242.8,224.3 L243.7,224.5 L244.6,224.7 L245.5,225.0 L246.4,225.2 L247.3,225.5 L248.2,225.7 L249.1,225.9 L250.0,226.2 L250.9,226.4 L251.8,226.6 L252.7,226.9 L253.6,227.1 L254.5,227.3 L255.4,227.6 L256.3,227.8 L257.2,228.0 L258.1,228.3 L259.0,228.5 L259.9,228.7 L260.8,228.9 L261.7,229.2 L262.6,229.4 L263.5,229.6 L264.4,229.8 L265.3,230.1 L266.2,230.3 L267.1,230.5 L268.0,230.7 L268.9,230.9 L269.8,231.2 L270.7,231.4 L271.6,231.6 L272.5,231.8 L273.4,232.0 L274.3,232.2 L275.2,232.4 L276.1,232.7 L277.0,232.9 L277.9,233.1 L278.8,233.3 L279.7,233.5 L280.6,233.7 L281.6,233.9 L282.5,234.1 L283.4,234.3 L284.3,234.5 L285.2,234.7 L286.1,234.9 L287.0,235.1 L287.9,235.3 L288.8,235.5 L289.7,235.8 L290.6,236.0 L291.5,236.2 L292.4,236.3 L293.3,236.5 L294.2,236.7 L295.1,236.9 L296.0,237.1 L296.9,237.3 L297.8,237.5 L298.7,237.7 L299.6,237.9 L300.5,238.1 L301.4,238.3 L302.3,238.5 L303.2,238.7 L304.1,238.9 L305.0,239.1 L305.9,239.2 L306.8,239.4 L307.7,239.6 L308.6,239.8 L309.5,240.0 L310.4,240.2 L311.3,240.4 L312.2,240.5 L313.1,240.7 L314.0,240.9 L314.9,241.1 L315.8,241.3 L316.7,241.5 L317.6,241.6 L318.5,241.8 L319.4,242.0 L320.3,242.2 L321.2,242.3 L322.1,242.5 L323.0,242.7 L324.0,242.9 L324.9,243.0 L325.8,243.2 L326.7,243.4 L327.6,243.6 L328.5,243.7 L329.4,243.9 L330.3,244.1 L331.2,244.2 L332.1,244.4 L333.0,244.6 L333.9,244.8 L334.8,244.9 L335.7,245.1 L336.6,245.3 L337.5,245.4 L338.4,245.6 L339.3,245.7 L340.2,245.9 L341.1,246.1 L342.0,246.2 L342.9,246.4 L343.8,246.6 L344.7,246.7 L345.6,246.9 L346.5,247.0 L347.4,247.2 L348.3,247.4 L349.2,247.5 L350.1,247.7 L351.0,247.8 L351.9,248.0 L352.8,248.1 L353.7,248.3 L354.6,248.5 L355.5,248.6 L356.4,248.8 L357.3,248.9 L358.2,249.1 L359.1,249.2 L360.0,249.4 L360.9,249.5 L361.8,249.7 L362.7,249.8 L363.6,250.0 L364.5,250.1 L365.4,250.3 L366.3,250.4 L367.3,250.6 L368.2,250.7 L369.1,250.9 L370.0,251.0 L370.9,251.1 L371.8,251.3 L372.7,251.4 L373.6,251.6 L374.5,251.7 L375.4,251.9 L376.3,252.0 L377.2,252.1 L378.1,252.3 L379.0,252.4 L379.9,252.6 L380.8,252.7 L381.7,252.8 L382.6,253.0 L383.5,253.1 L384.4,253.3 L385.3,253.4 L386.2,253.5 L387.1,253.7 L388.0,253.8 L388.9,253.9 L389.8,254.1 L390.7,254.2 L391.6,254.3 L392.5,254.5 L393.4,254.6 L394.3,254.7 L395.2,254.9 L396.1,255.0 L397.0,255.1 L397.9,255.3 L398.1,255.3" fill="none" stroke="#996633" stroke-width="2" stroke-dasharray="2.216 3.495" stroke-dashoffset="0.80"/>
<line x1="103.4" y1="272.7" x2="358.6" y2="272.7" stroke="#000" stroke-width="1.6"/>
<path d="M60.5,31.900000000000002 V334.5 H398.2" fill="none" stroke="#555" stroke-width="0.9"/>
<path d="M60.4,334.2h4.2M60.4,321.6h2.4M60.4,309.1h2.4M60.4,296.5h2.4M60.4,283.9h4.2M60.4,271.3h2.4M60.4,258.8h2.4M60.4,246.2h2.4M60.4,233.6h4.2M60.4,221.0h2.4M60.4,208.4h2.4M60.4,195.9h2.4M60.4,183.3h4.2M60.4,170.7h2.4M60.4,158.1h2.4M60.4,145.6h2.4M60.4,133.0h4.2M60.4,120.4h2.4M60.4,107.9h2.4M60.4,95.3h2.4M60.4,82.7h4.2M60.4,70.1h2.4M60.4,57.6h2.4M60.4,45.0h2.4M60.4,32.4h4.2M69.5,334.5v-2.4M87.7,334.5v-2.4M105.9,334.5v-2.4M124.1,334.5v-4.2M142.3,334.5v-2.4M160.5,334.5v-2.4M178.7,334.5v-2.4M196.9,334.5v-2.4M215.1,334.5v-4.2M233.3,334.5v-2.4M251.5,334.5v-2.4M269.7,334.5v-2.4M287.9,334.5v-2.4M306.1,334.5v-4.2M324.3,334.5v-2.4M342.5,334.5v-2.4M360.7,334.5v-2.4M378.9,334.5v-2.4M397.1,334.5v-4.2" fill="none" stroke="#555" stroke-width="0.75"/>
<g font-family="Liberation Sans, sans-serif" font-size="15.8" fill="#000">
<text transform="translate(56.75,340.10) rotate(0.03) scale(1,1.085)" text-anchor="end">0.00</text>
<text transform="translate(56.75,289.80) rotate(0.03) scale(1,1.085)" text-anchor="end">0.02</text>
<text transform="translate(56.75,239.50) rotate(0.03) scale(1,1.085)" text-anchor="end">0.04</text>
<text transform="translate(56.75,189.20) rotate(0.03) scale(1,1.085)" text-anchor="end">0.06</text>
<text transform="translate(56.75,138.90) rotate(0.03) scale(1,1.085)" text-anchor="end">0.08</text>
<text transform="translate(56.75,88.60) rotate(0.03) scale(1,1.085)" text-anchor="end">0.10</text>
<text transform="translate(56.75,37.90) rotate(0.03) scale(1,1.085)" text-anchor="end">0.12</text>
<text transform="translate(124.1,352.6) scale(1,1.085)" text-anchor="middle">0.5</text>
<text transform="translate(215.1,352.6) scale(1,1.085)" text-anchor="middle">1.0</text>
<text transform="translate(306.1,352.6) scale(1,1.085)" text-anchor="middle">1.5</text>
<text transform="translate(397.1,352.6) scale(1,1.085)" text-anchor="middle">2.0</text>
</g>
<g font-family="Liberation Serif, serif" fill="#000">
<text transform="translate(14.2,187) rotate(-90)" font-size="14.8">P</text>
<text x="222" y="377.8" font-size="15" font-style="italic">r<tspan font-size="11.5" dy="3.6" font-style="normal">+</tspan></text>
<text x="182.9" y="302.9" font-size="14.4">SBH+LBH</text>
<line x1="288.4" y1="61.8" x2="310.6" y2="61.8" stroke="#00ff00" stroke-width="1.7"/>
<text x="315.5" y="65.9" font-size="14.5" letter-spacing="0.5">T&lt;T<tspan font-size="10" dy="2.3">f</tspan></text>
<line x1="288.4" y1="81.1" x2="310.6" y2="81.1" stroke="#800080" stroke-width="1.7" stroke-dasharray="11.2 3.3 2.4 20"/>
<text x="315.5" y="85.2" font-size="14.5" letter-spacing="0.5">T=T<tspan font-size="10" dy="2.3">f</tspan></text>
<line x1="288.4" y1="101" x2="310.6" y2="101" stroke="#0000ff" stroke-width="1.7" stroke-dasharray="8 3.4"/>
<text x="315.5" y="105.1" font-size="14.5" letter-spacing="0.5">T<tspan font-size="10" dy="2.3">f</tspan><tspan dy="-2.3">&lt;T&lt;T</tspan><tspan font-size="10" dy="2.3">c</tspan></text>
<line x1="288.4" y1="120.5" x2="310.6" y2="120.5" stroke="#ff00ff" stroke-width="1.7" stroke-dasharray="11.2 3.3 2.4 20"/>
<text x="315.5" y="124.6" font-size="14.5" letter-spacing="0.5">T=T<tspan font-size="10" dy="2.3">c</tspan></text>
<line x1="288.4" y1="140.2" x2="310.6" y2="140.2" stroke="#996633" stroke-width="1.7" stroke-dasharray="2.1 2.55"/>
<text x="315.5" y="144.3" font-size="14.5" letter-spacing="0.5">T&gt;T<tspan font-size="10" dy="2.3">c</tspan></text>
</g>
</svg>
</body></html>
